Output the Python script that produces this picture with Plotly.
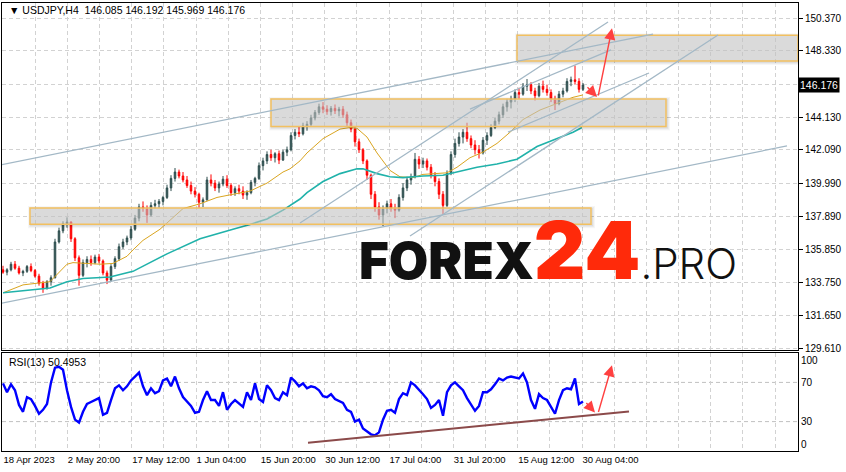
import plotly.graph_objects as go

# ---------------- data ----------------
bar = list(range(3, 584, 4))  # bar index of each (4-bar) candle

opens = [134.55,134.40,134.55,134.90,134.65,134.35,134.45,134.75,134.50,134.15,
         133.70,133.40,133.80,134.05,136.30,137.00,137.45,137.55,136.50,135.30,
         134.20,135.00,135.20,135.00,135.35,135.10,134.35,133.90,134.75,135.25,
         136.00,136.30,136.55,137.10,137.80,138.50,138.40,138.00,138.60,138.70,
         138.85,139.10,139.70,140.30,140.70,140.45,140.20,139.85,139.50,139.30,
         138.80,138.95,140.20,140.00,139.70,139.95,140.25,139.85,139.40,139.65,
         139.50,139.25,139.40,140.05,140.30,141.10,141.40,141.80,141.60,141.85,
         141.45,141.95,142.10,143.00,143.20,143.10,143.60,143.70,144.10,144.45,
         144.80,144.65,144.50,144.70,144.55,144.65,144.30,143.80,143.40,142.60,
         142.10,141.40,140.50,139.30,138.50,138.00,138.40,138.70,138.40,138.30,
         139.10,139.70,140.20,140.40,141.50,141.20,141.40,141.00,140.50,140.10,
         139.30,138.60,140.60,141.80,142.50,142.90,143.20,142.80,142.40,142.10,
         141.90,142.70,143.00,143.50,143.90,144.30,144.80,145.10,145.30,145.70,
         145.60,146.10,146.20,145.80,145.50,146.10,145.90,145.70,145.30,145.00,
         145.60,145.80,146.40,146.50,146.40,145.90]
highs = [134.80,134.65,135.05,135.10,134.80,134.55,134.85,134.95,134.60,134.30,
         133.85,133.90,134.20,136.50,137.20,137.60,137.85,137.60,136.60,135.45,
         135.20,135.40,135.45,135.50,135.55,135.20,134.50,134.90,135.40,136.20,
         136.50,136.70,137.30,138.00,138.70,138.85,138.60,138.80,138.95,139.00,
         139.20,139.90,140.50,140.95,140.85,140.70,140.45,140.10,139.75,139.40,
         139.10,140.40,140.55,140.20,140.10,140.45,140.50,140.00,139.80,139.90,
         139.80,139.55,140.20,140.40,141.30,141.60,142.00,142.10,141.95,142.05,
         142.10,142.30,143.20,143.40,143.55,143.80,143.90,144.30,144.60,145.00,
         145.10,144.90,144.85,144.95,144.80,144.85,144.50,144.00,143.50,142.80,
         142.20,141.50,140.60,139.50,138.80,138.60,138.90,139.00,138.70,139.30,
         140.00,140.40,140.60,141.90,141.70,141.60,141.55,141.20,140.70,140.30,
         139.50,140.80,142.00,142.80,143.20,143.40,143.80,143.00,142.70,142.40,
         142.90,143.20,143.70,144.10,144.50,145.00,145.30,145.50,145.90,146.00,
         146.30,146.55,146.35,146.00,146.30,146.45,146.20,145.90,145.50,145.80,
         146.00,146.60,146.70,147.40,146.60,146.30]
lows = [134.30,134.20,134.45,134.55,134.25,134.15,134.35,134.40,134.05,133.55,
        133.10,133.30,133.55,134.00,136.20,136.85,137.20,136.30,135.10,133.55,
        134.10,134.70,134.80,134.90,134.95,134.20,133.65,133.80,134.60,135.10,
        135.85,136.10,136.40,137.00,137.60,138.20,137.50,137.90,138.40,138.45,
        138.60,139.00,139.50,140.10,140.30,140.05,139.70,139.30,139.10,138.45,
        138.50,138.90,139.80,139.50,139.40,139.80,139.70,139.20,139.20,139.30,
        139.00,138.95,139.30,139.80,140.20,140.80,141.20,141.40,141.30,141.20,
        141.40,141.70,142.00,142.75,142.90,143.00,143.30,143.60,143.95,144.30,
        144.40,144.30,144.25,144.35,144.20,144.10,143.60,143.20,142.30,141.90,
        141.20,140.20,139.00,138.20,137.70,137.30,138.10,138.20,137.80,138.20,
        138.90,139.50,139.90,140.30,140.90,140.95,140.80,140.30,139.80,139.00,
        138.00,138.50,140.50,141.60,142.30,142.50,142.60,142.20,141.80,141.55,
        141.80,142.40,142.90,143.40,143.70,144.10,144.50,144.70,145.10,145.30,
        145.50,145.80,145.60,145.20,145.40,145.70,145.50,145.10,144.60,144.90,
        145.40,145.70,146.10,146.20,145.70,145.80]
closes = [134.40,134.55,134.90,134.65,134.35,134.45,134.75,134.50,134.15,133.70,
          133.40,133.80,134.05,136.30,137.00,137.45,137.55,136.50,135.30,134.20,
          135.00,135.20,135.00,135.35,135.10,134.35,133.90,134.75,135.25,136.00,
          136.30,136.55,137.10,137.80,138.50,138.40,138.00,138.60,138.70,138.85,
          139.10,139.70,140.30,140.70,140.45,140.20,139.85,139.50,139.30,138.80,
          138.95,140.20,140.00,139.70,139.95,140.25,139.85,139.40,139.65,139.50,
          139.25,139.40,140.05,140.30,141.10,141.40,141.80,141.60,141.85,141.45,
          141.95,142.10,143.00,143.20,143.10,143.60,143.70,144.10,144.45,144.80,
          144.65,144.50,144.70,144.55,144.65,144.30,143.80,143.40,142.60,142.10,
          141.40,140.50,139.30,138.50,138.00,138.40,138.70,138.40,138.30,139.10,
          139.70,140.20,140.40,141.50,141.20,141.40,141.00,140.50,140.10,139.30,
          138.60,140.60,141.80,142.50,142.90,143.20,142.80,142.40,142.10,141.90,
          142.70,143.00,143.50,143.90,144.30,144.80,145.10,145.30,145.70,145.60,
          146.10,146.20,145.80,145.50,146.10,145.90,145.70,145.30,145.00,145.60,
          145.80,146.40,146.50,146.40,145.90,146.176]

rsi = [69,60,68,62,47,40,55,53,46,38,42,48,70,85,86,83,62,45,32,29,
       40,48,50,52,54,37,39,52,64,67,62,66,72,76,80,66,57,64,59,61,
       72,74,66,76,64,55,50,46,39,40,52,61,52,52,46,60,42,48,52,48,
       45,60,52,69,53,50,67,62,54,52,60,57,75,71,66,69,64,66,65,62,
       56,55,58,53,51,49,42,40,30,32,23,20,17,16,19,32,41,42,39,53,
       59,57,70,67,63,58,53,44,47,52,36,60,67,70,66,62,54,48,41,46,
       60,60,63,68,74,72,75,76,75,74,79,70,52,43,58,54,52,45,38,52,
       62,64,63,74,48,50.4953]

ma_fast_bar = [3,23,50,67,73,100,113,127,133,143,160,173,183,200,217,233,250,267,
               283,290,300,307,323,340,350,357,367,377,390,400,413,423,437,447,457,
               470,483,497,510,523,540,557,573,583]
ma_fast = [133.10,133.60,133.80,134.90,135.00,134.90,134.95,135.40,135.80,136.40,
           137.10,137.80,138.40,138.70,139.10,139.30,139.50,140.00,140.70,140.90,
           141.40,141.90,142.80,143.40,143.50,143.45,142.90,141.90,140.80,140.40,
           140.35,140.55,140.60,140.65,141.00,141.60,141.95,142.50,143.20,144.00,
           144.60,145.00,145.40,145.55]
ma_slow_bar = [3,50,67,83,110,133,167,200,233,250,267,283,300,307,323,340,357,363,
               377,390,403,423,443,457,477,497,517,537,557,573,582]
ma_slow = [133.10,133.40,133.80,134.00,134.10,134.45,135.55,136.50,137.10,137.40,
           137.75,138.30,139.00,139.40,140.10,140.60,140.90,140.90,140.60,140.40,
           140.35,140.45,140.50,140.70,141.00,141.20,141.50,142.30,142.80,143.20,
           143.50]

date_bars = [3, 67, 132, 196, 260, 325, 389, 453, 518, 582]
date_labels = ['18 Apr 2023', '2 May 20:00', '17 May 12:00', '1 Jun 04:00',
               '15 Jun 20:00', '30 Jun 12:00', '17 Jul 04:00', '31 Jul 20:00',
               '15 Aug 12:00', '30 Aug 04:00']

price_ticks = [129.61, 131.65, 133.75, 135.85, 137.89, 139.99, 142.09, 144.13,
               146.22, 148.33, 150.37]
price_labels = ['129.610', '131.650', '133.750', '135.850', '137.890', '139.990',
                '142.090', '144.130', '', '148.330', '150.370']
last_price = 146.176

# support / resistance zones
zone_bar0 = [30, 271, 517]
zone_bar1 = [591, 666, 798]
zone_low = [137.41, 143.56, 147.68]
zone_high = [138.44, 145.29, 149.30]

# trend lines
tl_bar0 = [0, 0, 300, 410, 470, 508]
tl_p0 = [141.14, 132.43, 137.49, 136.67, 144.66, 143.21]
tl_bar1 = [653, 787, 608, 718, 611, 649]
tl_p1 = [149.38, 142.34, 150.14, 149.32, 148.38, 146.93]

# RSI support line
rsi_tl_bar = [308, 629]
rsi_tl_val = [8.5, 40.3]

# forecast arrows (tail -> head)
arrow_bar0 = [586, 598]
arrow_p0 = [146.12, 145.42]
arrow_bar1 = [597, 612]
arrow_p1 = [145.42, 149.74]
rsi_arrow_bar0 = [585, 598]
rsi_arrow_v0 = [50.6, 38.3]
rsi_arrow_bar1 = [595, 612]
rsi_arrow_v1 = [39.3, 87.5]

# ---------------- figure ----------------
GRID = '#d2d2d2'
DASH = '4px,3px'
PX_PRICE = (151.333 - 129.503) / 347.0   # price units per pixel (styling offsets)
step = (date_bars[-1] - date_bars[0]) / (2 * (len(date_bars) - 1))
grid_pos = [date_bars[0] + step * i for i in range(25)]
grid_text = []
for i in range(25):
    if i % 2 == 0 and i // 2 < len(date_labels):
        grid_text.append(date_labels[i // 2])
    else:
        grid_text.append('')

fig = go.Figure()

fig.add_trace(go.Candlestick(
    x=bar, open=opens, high=highs, low=lows, close=closes,
    increasing=dict(line=dict(color='#2f4f4f', width=1), fillcolor='#2f4f4f'),
    decreasing=dict(line=dict(color='#ff0000', width=1), fillcolor='#ff0000'),
    whiskerwidth=0, hoverinfo='skip', xaxis='x', yaxis='y'))

fig.add_trace(go.Scatter(x=ma_fast_bar, y=ma_fast, mode='lines',
                         line=dict(color='#daa520', width=1), hoverinfo='skip'))
fig.add_trace(go.Scatter(x=ma_slow_bar, y=ma_slow, mode='lines',
                         line=dict(color='#20b2aa', width=1.6), hoverinfo='skip'))

fig.add_trace(go.Scatter(x=bar, y=rsi, mode='lines', xaxis='x2', yaxis='y2',
                         line=dict(color='#0000ff', width=2.4), hoverinfo='skip'))

shapes = []
for b0, b1, lo, hi in zip(zone_bar0, zone_bar1, zone_low, zone_high):
    # soft drop shadow
    for k, a in ((3, 0.035), (2, 0.045), (1, 0.06)):
        shapes.append(dict(type='rect', xref='x', yref='y', x0=b0 - k + 1, x1=b1 + k + 1,
                           y0=lo - (k + 1) * PX_PRICE, y1=hi + (k - 1) * PX_PRICE,
                           fillcolor='rgba(0,0,0,%.3f)' % a, line=dict(width=0),
                           layer='above'))
    shapes.append(dict(type='rect', xref='x', yref='y', x0=b0, x1=b1, y0=lo, y1=hi,
                       fillcolor='rgba(215,215,215,0.55)',
                       line=dict(color='#f2c060', width=1.5), layer='above'))
for b0, p0, b1, p1 in zip(tl_bar0, tl_p0, tl_bar1, tl_p1):
    shapes.append(dict(type='line', xref='x', yref='y', x0=b0, y0=p0, x1=b1, y1=p1,
                       line=dict(color='#a3b8c6', width=1.3), layer='above'))
for lvl in (70, 30):
    shapes.append(dict(type='line', xref='x2', yref='y2', x0=2, x1=798, y0=lvl, y1=lvl,
                       line=dict(color='#c0c0c0', width=1, dash=DASH), layer='below'))
shapes.append(dict(type='line', xref='x2', yref='y2', x0=rsi_tl_bar[0], y0=rsi_tl_val[0],
                   x1=rsi_tl_bar[1], y1=rsi_tl_val[1],
                   line=dict(color='#8b4a4a', width=2), layer='above'))

annotations = []
for b0, p0, b1, p1 in zip(arrow_bar0, arrow_p0, arrow_bar1, arrow_p1):
    annotations.append(dict(xref='x', yref='y', axref='x', ayref='y', x=b1, y=p1,
                            ax=b0, ay=p0, text='', showarrow=True, arrowhead=2,
                            arrowsize=1.6, arrowwidth=1.4, arrowcolor='#ff4040'))
for b0, v0, b1, v1 in zip(rsi_arrow_bar0, rsi_arrow_v0, rsi_arrow_bar1, rsi_arrow_v1):
    annotations.append(dict(xref='x2', yref='y2', axref='x2', ayref='y2', x=b1, y=v1,
                            ax=b0, ay=v0, text='', showarrow=True, arrowhead=2,
                            arrowsize=1.6, arrowwidth=1.4, arrowcolor='#ff4040'))

annotations.append(dict(xref='paper', yref='paper', x=0.006, y=1 - 7.5 / 448,
                        xanchor='left', yanchor='middle', showarrow=False,
                        text='\u25bc USDJPY,H4  146.085 146.192 145.969 146.176',
                        font=dict(family='Liberation Sans', size=10.5, color='black')))
annotations.append(dict(xref='paper', yref='paper', x=0.006, y=(451 - 362) / 448,
                        xanchor='left', yanchor='middle', showarrow=False,
                        text='RSI(13) 50.4953',
                        font=dict(family='Liberation Sans', size=10.5, color='black')))
annotations.append(dict(xref='paper', yref='y', x=1.0, y=last_price,
                        xanchor='left', yanchor='middle', showarrow=False,
                        text='146.176', bgcolor='black', borderpad=1,
                        font=dict(family='Liberation Sans', size=10.5, color='white')))
annotations.append(dict(
    xref='paper', yref='paper', x=(357 - 2) / 796, y=(451 - 300) / 448,
    xanchor='left', yanchor='bottom', showarrow=False,
    text=("<span style='font-size:51px;font-weight:900;fill:#111111'>FOREX</span>"
          "<span style='font-size:80px;font-weight:900;fill:#ff2a0a'>24</span>"
          "<span style='font-size:42px;font-weight:300;fill:#111111'>.PRO</span>"),
    font=dict(family='Inter', size=80, color='#111111')))

fig.update_layout(
    width=846, height=472,
    margin=dict(l=2, r=48, t=3, b=21, pad=0),
    paper_bgcolor='white', plot_bgcolor='white', showlegend=False,
    boxgap=0.45,
    font=dict(family='Liberation Sans', size=10, color='black'),
    shapes=shapes, annotations=annotations,
    xaxis=dict(domain=[0, 1], range=[2, 798], anchor='y', tickvals=grid_pos,
               showticklabels=False, ticks='', showgrid=True, gridcolor=GRID,
               griddash=DASH, gridwidth=1, showline=True, linecolor='black',
               linewidth=1, mirror=True, zeroline=False,
               rangeslider=dict(visible=False)),
    yaxis=dict(domain=[(451 - 350) / 448, 1], range=[129.503, 151.333], anchor='x',
               side='right', tickvals=price_ticks, ticktext=price_labels,
               ticks='outside', ticklen=4, tickcolor='black', showgrid=True,
               gridcolor=GRID, griddash=DASH, showline=True, linecolor='black',
               mirror=True, zeroline=False, tickfont=dict(size=10)),
    xaxis2=dict(domain=[0, 1], range=[2, 798], anchor='y2', tickvals=grid_pos,
                ticktext=grid_text, ticklabelposition='outside right', ticks='',
                showgrid=True, gridcolor=GRID, griddash=DASH, showline=True,
                linecolor='black', mirror=True, zeroline=False,
                tickfont=dict(size=9.5)),
    yaxis2=dict(domain=[0, (451 - 353) / 448], range=[0, 100], anchor='x2',
                side='right', tickvals=[92.8, 70, 30, 6.7],
                ticktext=['100', '70', '30', '0'], ticks='', showgrid=False,
                showline=True, linecolor='black', mirror=True, zeroline=False,
                tickfont=dict(size=10)),
)

fig.write_html("out.html",
               config={'displayModeBar': False, 'staticPlot': True},
               post_script="document.body.style.margin='0px';"
                           "document.body.style.overflow='hidden';")
